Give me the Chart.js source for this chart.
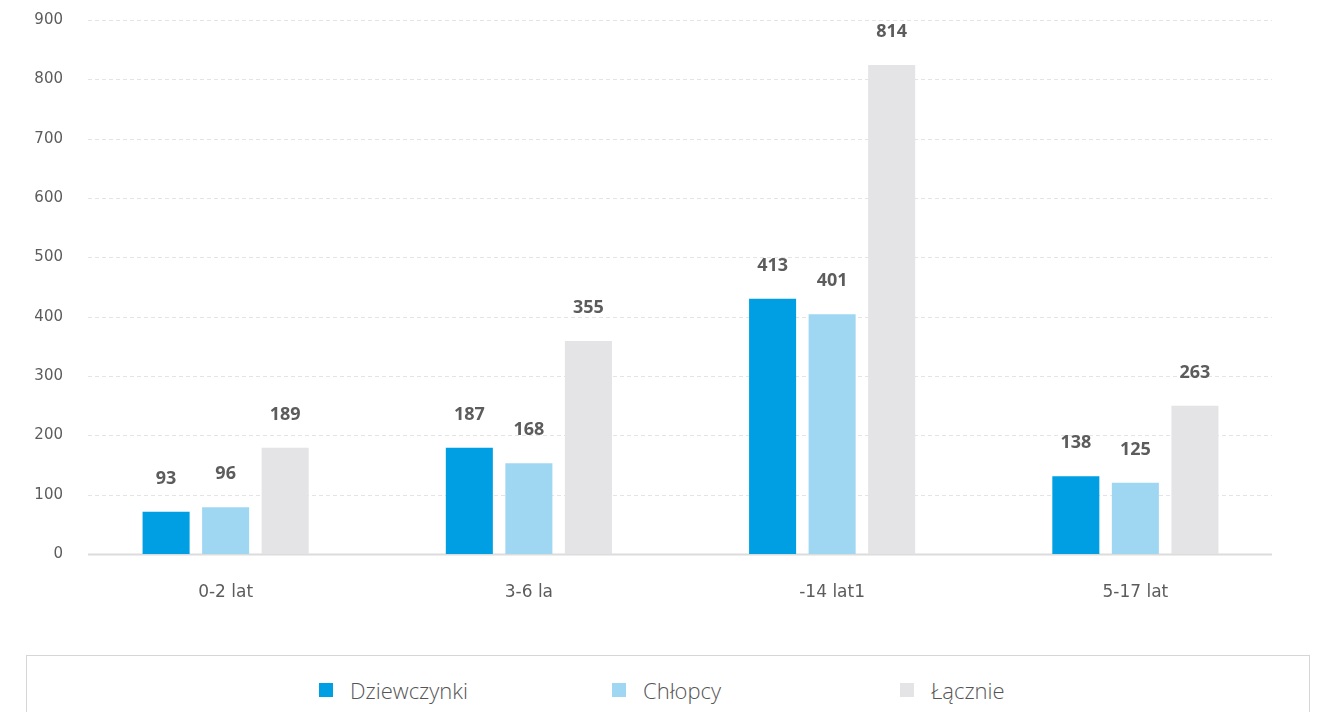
<!DOCTYPE html>
<html lang="pl">
<head>
<meta charset="utf-8">
<title>Dzieci wg wieku i płci</title>
<script src="https://cdn.jsdelivr.net/npm/chart.js@4/dist/chart.umd.min.js"></script>
<style>
  html, body { margin: 0; padding: 0; background: #fff; }
  body { width: 1326px; height: 712px; overflow: hidden; position: relative; font-family: "Noto Sans", sans-serif; }
  #wrap { position: absolute; left: 0; top: 0; width: 1326px; height: 640px; }
  #legend {
    position: absolute; left: 26px; top: 655px; width: 1284px; height: 80px;
    border: 1px solid #d6d6d6; box-sizing: border-box;
  }
  .lg-item { position: absolute; top: 19px; display: flex; align-items: center;
    font-family: "Open Sans", sans-serif; font-weight: 300; font-size: 22px; color: #555; }
  .lg-box { width: 14px; height: 14px; margin-right: 17px; }
</style>
</head>
<body>
<div id="wrap"><canvas id="chart"></canvas></div>
<div id="legend"></div>
<script>
// dane
const categories = ['0-2 lat', '3-6 la', '-14 lat1', '5-17 lat'];
const seriesNames = ['Dziewczynki', 'Chłopcy', 'Łącznie'];
const seriesColors = ['#009fe3', '#9fd7f3', '#e4e3e6'];
const girls  = [71, 179, 430, 131];
const boys   = [79, 153, 404, 120];
const total  = [179, 359, 824, 250];
// etykiety nad słupkami (różnią się od wysokości słupków)
const girlsLabels = ['93', '187', '413', '138'];
const boysLabels  = ['96', '168', '401', '125'];
const totalLabels = ['189', '355', '814', '263'];
const yTicks = [0, 100, 200, 300, 400, 500, 600, 700, 800, 900];

const seriesValues = [girls, boys, total];
const seriesLabels = [girlsLabels, boysLabels, totalLabels];

// siatka rysowana ręcznie, bo jest krótsza niż obszar wykresu
const gridPlugin = {
  id: 'shortGrid',
  beforeDatasetsDraw(chart) {
    const { ctx, chartArea, scales } = chart;
    const x0 = chartArea.left + 14, x1 = chartArea.right - 15;
    ctx.save();
    yTicks.forEach(v => {
      const y = Math.round(scales.y.getPixelForValue(v));
      ctx.beginPath();
      if (v === 0) {
        ctx.setLineDash([]);
        ctx.strokeStyle = '#dcdcdc';
        ctx.lineWidth = 2;
      } else {
        ctx.setLineDash([4, 3]);
        ctx.strokeStyle = '#e4e4e4';
        ctx.lineWidth = 1;
      }
      ctx.moveTo(x0, y + 0.5); ctx.lineTo(x1, y + 0.5);
      ctx.stroke();
    });
    ctx.restore();
  }
};

const valueLabels = {
  id: 'valueLabels',
  afterDatasetsDraw(chart) {
    const { ctx } = chart;
    ctx.save();
    ctx.font = 'bold 18px "Noto Sans", sans-serif';
    ctx.fillStyle = '#5c5c5c';
    ctx.textAlign = 'center';
    ctx.textBaseline = 'middle';
    chart.data.datasets.forEach((ds, di) => {
      chart.getDatasetMeta(di).data.forEach((bar, i) => {
        ctx.fillText(seriesLabels[di][i], bar.x, bar.y - 33);
      });
    });
    ctx.restore();
  }
};

new Chart(document.getElementById('chart'), {
  type: 'bar',
  data: {
    labels: categories,
    datasets: seriesNames.map((name, i) => ({
      label: name,
      data: seriesValues[i],
      backgroundColor: seriesColors[i],
      borderWidth: 0,
      categoryPercentage: 0.589,
      barPercentage: 0.79
    }))
  },
  options: {
    responsive: true,
    maintainAspectRatio: false,
    animation: false,
    layout: { padding: { top: 20, right: 39, left: 0, bottom: 0 } },
    plugins: { legend: { display: false }, tooltip: { enabled: false } },
    scales: {
      x: {
        grid: { display: false, drawTicks: false },
        border: { display: false },
        ticks: { color: '#5c5c5c', font: { family: '"DejaVu Sans", sans-serif', size: 17 }, padding: 28 },
        afterFit(s) { s.height = 86; }
      },
      y: {
        min: 0, max: 900,
        grid: { display: false, drawTicks: false },
        border: { display: false },
        ticks: { stepSize: 100, color: '#5c5c5c', font: { family: '"DejaVu Sans", sans-serif', size: 15 }, padding: 11 },
        afterFit(s) { s.width = 74; }
      }
    }
  },
  plugins: [gridPlugin, valueLabels]
});

// legenda w ramce pod wykresem
const legendLeft = [292, 585, 873];
const legend = document.getElementById('legend');
seriesNames.forEach((name, i) => {
  const item = document.createElement('div');
  item.className = 'lg-item';
  item.style.left = legendLeft[i] + 'px';
  item.innerHTML = `<span class="lg-box" style="background:${seriesColors[i]}"></span><span>${name}</span>`;
  legend.appendChild(item);
});
</script>
</body>
</html>
